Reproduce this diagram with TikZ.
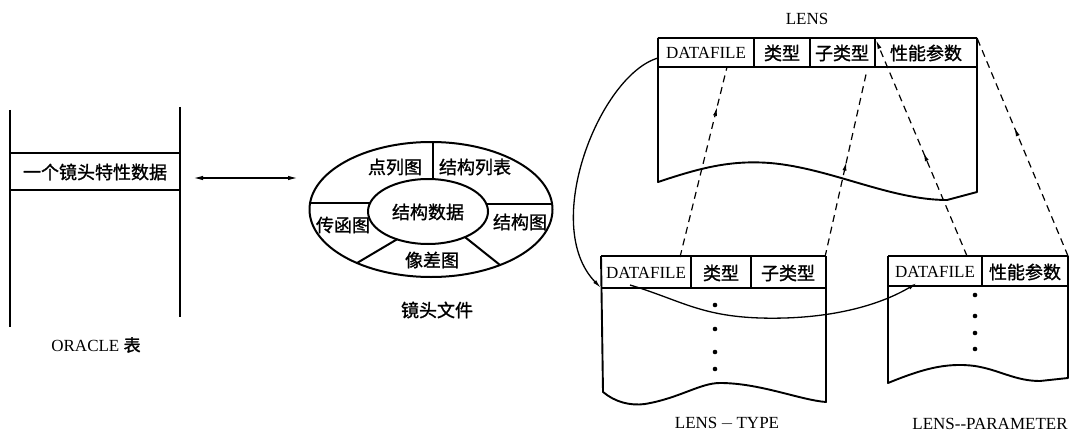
\documentclass[tikz,border=0pt]{standalone}
\usepackage{fontspec}
\setmainfont{Liberation Serif}
\newfontfamily\cjk[FakeBold=1.2]{Noto Sans CJK SC}
\usetikzlibrary{arrows.meta,decorations.markings,shapes.geometric}
\begin{document}
\begin{tikzpicture}[x=1pt,y=-1pt,line join=round,
  tbl/.style={line width=1.9pt},
  lbl/.style={font=\fontsize{17}{20}\selectfont,inner sep=0pt},
  zh/.style={font=\fontsize{18}{20}\selectfont\cjk,inner sep=0pt},
  dsh/.style={line width=1.2pt,dash pattern=on 7pt off 5pt},
  midup/.style={postaction={decorate},decoration={markings,mark=at position #1 with {\arrow{Latex[length=9pt,width=4pt]}}}},
  link/.style={line width=1.3pt},
]
\useasboundingbox (0,0) rectangle (1083,433);

% ---------- ORACLE table ----------
\draw[tbl] (10,110) -- (10,327);
\draw[tbl] (180,107) -- (180,317);
\draw[tbl] (10,153) -- (180,153);
\draw[tbl] (10,190) -- (180,190);
\node[zh] (orarow) at (95,172) {一个镜头特性数据};
\node[lbl] (oralbl) at (96,345) {ORACLE {\cjk 表}};
\coordinate (arrL) at (193,178);
\coordinate (arrR) at (298,178);
\draw[line width=1.5pt,{Latex[length=10pt,width=4.5pt]}-{Latex[length=10pt,width=4.5pt]}] (arrL) -- (arrR);

% ---------- lens file ellipse ----------
\node[ellipse,draw,line width=2pt,minimum width=243pt,minimum height=135pt,inner sep=0pt] (outer) at (431,209.5) {};
\node[ellipse,draw,line width=2pt,minimum width=120pt,minimum height=65pt,inner sep=0pt] (inner) at (428,211.5) {};
\draw[line width=2pt] (433,142) -- (433,179.1);
\draw[line width=2pt] (310.1,203) -- (370.1,203);
\draw[line width=2pt] (486.4,204) -- (552.1,204);
\draw[line width=2pt] (397,239.3) -- (357,263);
\draw[line width=2pt] (465,237.1) -- (500,265);
\node[zh] (dlt) at (395,167) {点列图};
\node[zh] (jglb) at (475,167) {结构列表};
\node[zh] (jgsj) at (428,212) {结构数据};
\node[zh] (cht) at (343,225) {传函图};
\node[zh] (jgt) at (520,222) {结构图};
\node[zh] (xct) at (432,260) {像差图};
\node[zh] (jtwj) at (437,310) {镜头文件};

% ---------- LENS table ----------
\node[lbl] (lenslbl) at (807,19) {LENS};
\draw[tbl] (658,38) -- (977,38);
\draw[tbl] (658,67) -- (977,67);
\draw[tbl] (754,38) -- (754,67);
\draw[tbl] (810,38) -- (810,67);
\draw[tbl] (875,38) -- (875,67);
\draw[tbl] (977,38) -- (977,192) -- (947,200)
  .. controls (890,200) and (830,168) .. (770,163)
  .. controls (730,160) and (700,168) .. (658,182) -- (658,38);
\node[lbl] (Ldf) at (706,53) {DATAFILE};
\node[zh] (Llx) at (782,53) {类型};
\node[zh] (Lzlx) at (842,53) {子类型};
\node[zh] (Lxn) at (926,53) {性能参数};

% ---------- LENS-TYPE table ----------
\draw[tbl] (601,256) -- (826,256);
\draw[tbl] (601,288) -- (826,288);
\draw[tbl] (691,256) -- (691,288);
\draw[tbl] (751,256) -- (751,288);
\draw[tbl] (601,256) -- (603,392)
  .. controls (615,402) and (630,406) .. (645,404)
  .. controls (680,398) and (700,383) .. (720,383)
  .. controls (760,383) and (800,400) .. (826,402) -- (826,256);
\node[lbl] (Tdf) at (646,273) {DATAFILE};
\node[zh] (Tlx) at (721,273) {类型};
\node[zh] (Tzlx) at (788,273) {子类型};
\foreach \yy in {305,329,352,369} \fill (715,\yy) circle (2.3pt);
\node[lbl] (typelbl) at (727,424) {LENS$\,-\,$TYPE};

% ---------- LENS-PARAMETER table ----------
\draw[tbl] (888,256) -- (1068,256);
\draw[tbl] (888,286) -- (1068,286);
\draw[tbl] (982,256) -- (982,286);
\draw[tbl] (888,256) -- (888,383)
  .. controls (920,370) and (945,362) .. (975,366)
  .. controls (1000,370) and (1015,381) .. (1040,381)
  -- (1068,378) -- (1068,256);
\node[lbl] (Pdf) at (935,272) {DATAFILE};
\node[zh] (Pxn) at (1025,272) {性能参数};
\foreach \yy in {295,316,333,349} \fill (975,\yy) circle (2.3pt);
\node[lbl] (paramlbl) at (990,424) {LENS-{}-PARAMETER};

% ---------- connector coordinates ----------
\coordinate (LdfW) at (658,58);
\coordinate (TdfSW) at (601,288);
\coordinate (TdfS) at (630,285);
\coordinate (PdfS) at (917,283);
\coordinate (TtopA) at (680,257);
\coordinate (LdfB) at (727,67);
\coordinate (TtopB) at (825,257);
\coordinate (LzlxB) at (867,70);
\coordinate (PtopA) at (967,256);
\coordinate (LxnTL) at (876,40);
\coordinate (PtopB) at (1068,256);
\coordinate (LxnTR) at (977,38);

% solid curves
\draw[link,-{Latex[length=9pt,width=4pt]}] (LdfW) .. controls (600,75) and (540,225) .. (TdfSW);
\draw[link,-{Latex[length=9pt,width=4pt]}] (TdfS) .. controls (680,300) and (700,316) .. (760,318)
  .. controls (830,320) and (880,305) .. (PdfS);

% dashed connectors
\draw[dsh,midup=0.79] (TtopA) -- (LdfB);
\draw[dsh,midup=0.51] (TtopB) -- (LzlxB);
\draw[dsh,midup=0.48,-{Latex[length=9pt,width=4pt]}] (PtopA) -- (LxnTL);
\draw[dsh,midup=0.59] (PtopB) -- (LxnTR);
\end{tikzpicture}
\end{document}
